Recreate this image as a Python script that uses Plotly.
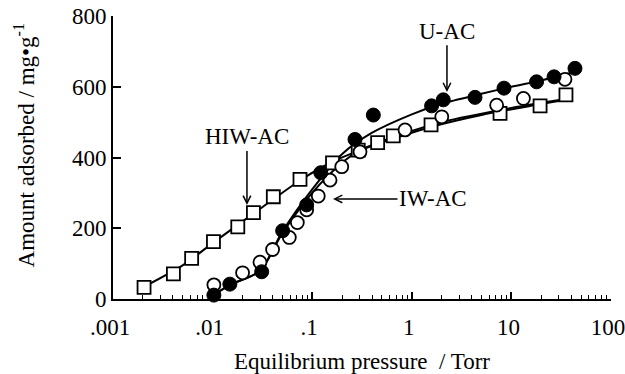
import plotly.graph_objects as go

# HIW-AC (open squares)
hiw_x = [0.00205, 0.00404, 0.00616, 0.0102, 0.0179, 0.0257, 0.0407, 0.0754, 0.160, 0.290, 0.454, 0.652, 1.56, 7.69, 19.4, 35.3]
hiw_y = [33, 71, 115, 162, 204, 244, 289, 338, 385, 421, 442, 461, 492, 525, 546, 577]
# U-AC (filled circles)
u_x = [0.0103, 0.0149, 0.0311, 0.0505, 0.088, 0.122, 0.269, 0.411, 1.58, 2.07, 4.31, 8.43, 17.9, 26.8, 43.5]
u_y = [11, 42, 77, 193, 266, 357, 451, 520, 546, 563, 570, 596, 614, 628, 652]
# IW-AC (open circles)
iw_x = [0.0103, 0.0200, 0.0299, 0.040, 0.0589, 0.0709, 0.088, 0.115, 0.151, 0.198, 0.302, 0.855, 2.0, 7.11, 13.2, 34.5]
iw_y = [40, 74, 104, 140, 174, 216, 252, 291, 336, 374, 416, 478, 515, 548, 567, 621]

# fitted curves
hiw_fit_x = [0.002, 0.005, 0.01, 0.03, 0.08, 0.16, 0.3, 0.6, 1.5, 5, 15, 40]
hiw_fit_y = [33, 95, 158, 255, 340, 388, 420, 450, 485, 520, 545, 565]
u_fit_x = [0.0103, 0.015, 0.03, 0.05, 0.1, 0.2, 0.4, 1, 2, 5, 10, 20, 48]
u_fit_y = [12, 40, 80, 190, 310, 410, 470, 522, 552, 580, 600, 618, 645]
iw_fit_x = [0.0103, 0.015, 0.03, 0.05, 0.1, 0.2, 0.3, 1, 2, 10, 40]
iw_fit_y = [12, 40, 80, 185, 300, 385, 420, 475, 500, 540, 568]

x_tickvals = [0.001, 0.01, 0.1, 1, 10, 100]
x_ticktext = [".001", ".01", ".1", "1", "10", "100"]
x_minor_vals = [m * d for d in [0.001, 0.01, 0.1, 1, 10] for m in range(2, 10)]
y_tickvals = [0, 200, 400, 600, 800]

FONT = "Liberation Serif"
FS = 23
fig = go.Figure()
line_style = dict(color="black", width=2)
for fx, fy in [(hiw_fit_x, hiw_fit_y), (u_fit_x, u_fit_y), (iw_fit_x, iw_fit_y)]:
    fig.add_trace(go.Scatter(x=fx, y=fy, mode="lines", line=dict(shape="spline", smoothing=0.8, **line_style),
                             showlegend=False, hoverinfo="skip", cliponaxis=False))

fig.add_trace(go.Scatter(x=hiw_x, y=hiw_y, mode="markers", name="HIW-AC", cliponaxis=False,
                         marker=dict(symbol="square", size=13, color="white", line=dict(color="black", width=1.8))))
fig.add_trace(go.Scatter(x=iw_x, y=iw_y, mode="markers", name="IW-AC", cliponaxis=False,
                         marker=dict(symbol="circle", size=13, color="white", line=dict(color="black", width=1.8))))
fig.add_trace(go.Scatter(x=u_x, y=u_y, mode="markers", name="U-AC", cliponaxis=False,
                         marker=dict(symbol="circle", size=14, color="black", line=dict(color="black", width=1))))

ann_font = dict(family=FONT, size=FS, color="black")
arrow = dict(showarrow=True, arrowhead=5, arrowsize=1, arrowwidth=1.5, arrowcolor="black",
             xref="x", yref="y", axref="x", ayref="y", font=ann_font)
fig.add_annotation(text="HIW-AC", x=-1.655, y=266, ax=-1.655, ay=458, **arrow)
fig.add_annotation(text="U-AC", x=0.353, y=585, ax=0.353, ay=757, **arrow)
fig.add_annotation(text="IW-AC", x=-0.791, y=283, ax=0.213, ay=283, **arrow)
# y-axis title
fig.add_annotation(text="Amount adsorbed / mg•g<sup>-1</sup>", xref="paper", yref="paper",
                   x=-0.178, y=0.544, textangle=-90, showarrow=False, xanchor="center", yanchor="middle",
                   font=ann_font)

fig.update_layout(
    width=625, height=374,
    margin=dict(l=113, r=14, t=16, b=75, autoexpand=False),
    plot_bgcolor="white", paper_bgcolor="white",
    showlegend=False,
    font=dict(family=FONT, size=FS, color="black"),
)
fig.update_xaxes(type="log", range=[-3, 2], tickvals=x_tickvals, ticktext=x_ticktext,
                 ticks="inside", ticklen=7, tickwidth=1.5, tickcolor="black", ticklabelstandoff=6,
                 ticklabeloverflow="allow", ticklabelshift=-3,
                 minor=dict(tickvals=x_minor_vals, ticks="inside", ticklen=4, tickwidth=1.2, tickcolor="black", showgrid=False),
                 showline=True, linecolor="black", linewidth=2, showgrid=False, zeroline=False, automargin=False,
                 title=dict(text="Equilibrium pressure  / Torr", font=dict(family=FONT, size=FS), standoff=16),
                 tickfont=dict(family=FONT, size=FS))
fig.update_yaxes(range=[0, 800], tickvals=y_tickvals, ticks="inside", ticklen=8, tickwidth=1.5, tickcolor="black",
                 ticklabeloverflow="allow",
                 showline=True, linecolor="black", linewidth=2, showgrid=False, zeroline=False, automargin=False,
                 tickfont=dict(family=FONT, size=FS))

fig.write_html("out.html", config={"displayModeBar": False},
               post_script="document.body.style.margin='0';document.body.style.overflow='hidden';")
